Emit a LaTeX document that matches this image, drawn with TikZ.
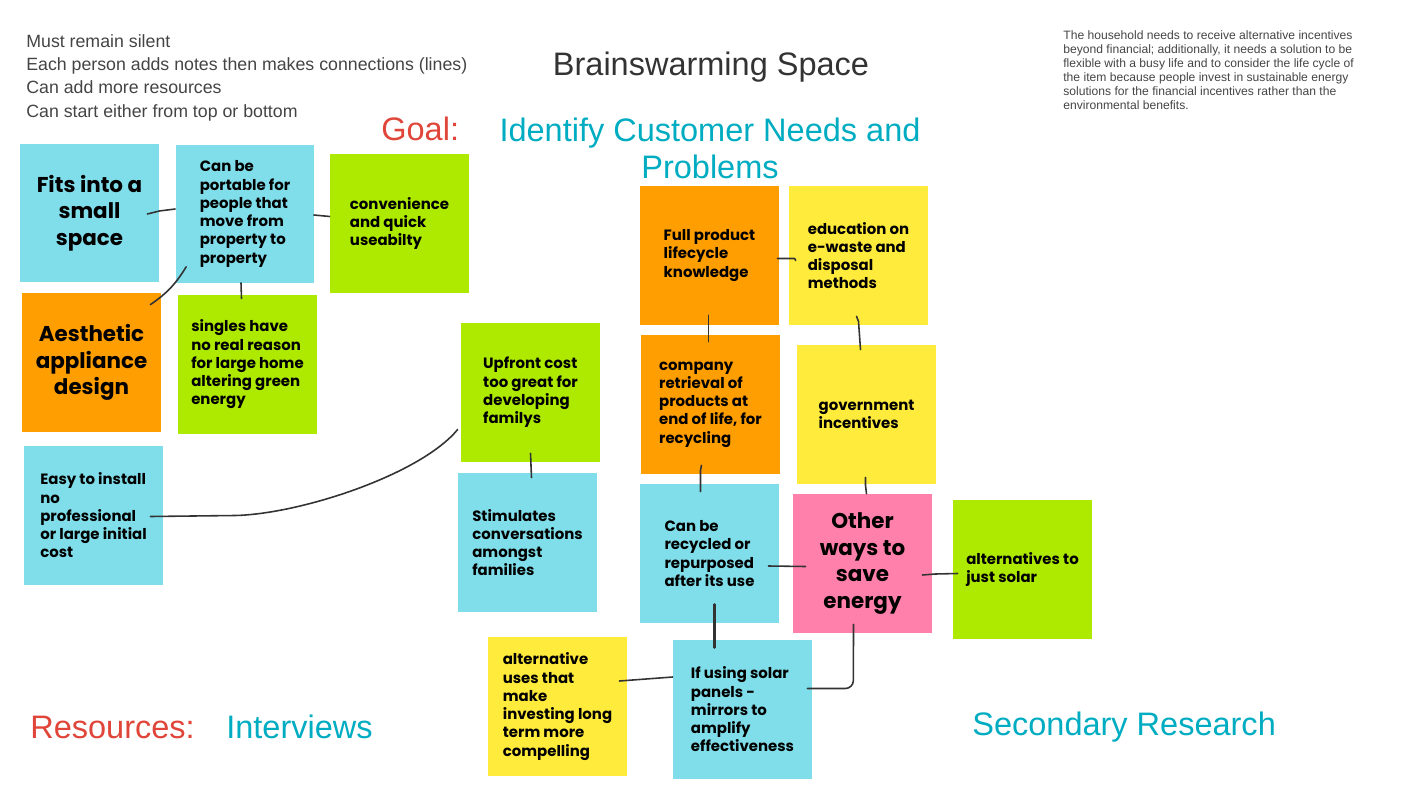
\documentclass[tikz,border=0pt]{standalone}
\usepackage{fontspec}
\setmainfont{Liberation Sans}
\newfontfamily\notefont{Poppins}
\usepackage{tikz}
\usetikzlibrary{calc}
\definecolor{noteblue}{HTML}{80DEEA}
\definecolor{notegreen}{HTML}{AEEA00}
\definecolor{noteorange}{HTML}{FF9E00}
\definecolor{noteyellow}{HTML}{FFEB3B}
\definecolor{notepink}{HTML}{FF80AB}
\definecolor{goalred}{HTML}{E0453A}
\definecolor{tealtext}{HTML}{00ACC1}
\definecolor{darkgray}{HTML}{333333}
\definecolor{textgray}{HTML}{444444}

\tikzset{
  note/.style={minimum width=2.78cm, minimum height=2.78cm, inner sep=0pt,
    align=left, text=black, font=\notefont\bfseries\fontsize{8.5}{10.4}\selectfont},
  bignote/.style={note, align=center, font=\notefont\bfseries\fontsize{12.2}{15}\selectfont},
  link/.style={draw=darkgray, line width=0.9pt, line cap=round, line join=round},
  heading/.style={inner sep=0pt, font=\fontsize{18.5}{21}\selectfont}
}

\begin{document}
\begin{tikzpicture}[x=0.02cm, y=-0.02cm]
  \useasboundingbox (0,0) rectangle (1422,800);
  % texts
  \node[inner sep=0pt, anchor=north west, align=left, text=textgray,
    font=\fontsize{10.1}{13.3}\selectfont] (rules) at (26,34)
    {Must remain silent\\Each person adds notes then makes connections (lines)\\Can add more resources\\Can start either from top or bottom};
  \node[inner sep=0pt, text=darkgray, font=\fontsize{18.5}{22}\selectfont] (title) at (711,67) {Brainswarming Space};
  \node[heading, anchor=west, text=goalred] (goal) at (381,129) {Goal:};
  \node[heading, align=center, text=tealtext] (goaltext) at (710,148) {Identify Customer Needs and\\Problems};
  \node[inner sep=0pt, anchor=north west, align=left, text=textgray,
    font=\fontsize{6.9}{8.05}\selectfont] (summary) at (1063,30)
    {The household needs to receive alternative incentives\\beyond financial; additionally, it needs a solution to be\\flexible with a busy life and to consider the life cycle of\\the item because people invest in sustainable energy\\solutions for the financial incentives rather than the\\environmental benefits.};
  \node[heading, anchor=west, text=goalred] (resources) at (30,727) {Resources:};
  \node[heading, anchor=west, text=tealtext] (interviews) at (226,727) {Interviews};
  \node[heading, anchor=west, text=tealtext] (secondary) at (972,727) {Secondary Research};

  % notes, left group
  \node[bignote, fill=noteblue] (fits) at (89.5,213) {Fits into a\\small\\space};
  \node[note, fill=noteblue] (portable) at (245,214) {Can be\\portable for\\people that\\move from\\property to\\property};
  \node[note, fill=notegreen] (convenience) at (399.5,223.5) {convenience\\and quick\\useabilty};
  \node[bignote, fill=noteorange] (aesthetic) at (91.5,362.5) {Aesthetic\\appliance\\design};
  \node[note, fill=notegreen] (singles) at (247.5,364.5) {singles have\\no real reason\\for large home\\altering green\\energy};
  \node[note, fill=noteblue] (easy) at (93.5,515.5) {Easy to install\\no\\professional\\or large initial\\cost};
  \node[note, fill=notegreen] (upfront) at (530.5,392.5) {Upfront cost\\too great for\\developing\\familys};
  \node[note, fill=noteblue] (stimulates) at (527.5,542.5) {Stimulates\\conversations\\amongst\\families};

  % notes, right group
  \node[note, fill=noteorange] (lifecycle) at (709.5,255.5) {Full product\\lifecycle\\knowledge};
  \node[note, fill=noteyellow] (education) at (858.5,255.5) {education on\\e-waste and\\disposal\\methods};
  \node[note, fill=noteorange] (retrieval) at (710.5,404.5) {company\\retrieval of\\products at\\end of life, for\\recycling};
  \node[note, fill=noteyellow] (government) at (866.5,414.5) {government\\incentives};
  \node[note, fill=noteblue] (recycled) at (709.5,553.5) {Can be\\recycled or\\repurposed\\after its use};
  \node[bignote, fill=notepink] (otherways) at (862.5,563.5) {Other\\ways to\\save\\energy};
  \node[note, fill=notegreen] (justsolar) at (1022.5,569.5) {alternatives to\\just solar};
  \node[note, fill=noteyellow] (altuses) at (557.5,706.5) {alternative\\uses that\\make\\investing long\\term more\\compelling};
  \node[note, fill=noteblue] (solar) at (742.5,709.5) {If using solar\\panels -\\mirrors to\\amplify\\effectiveness};

  % connections
  \draw[link] ($(fits.east)+(-12,1)$) -- ($(fits.east)+(0,-2)$) -- ($(portable.west)+(0,-5)$);
  \draw[link] ($(portable.east)+(-1,1)$) -- ($(convenience.west)+(0,-7)$);
  \draw[link] ($(portable.south west)+(11,-17)$) to[bend left=12] ($(aesthetic.north east)+(-11,12)$);
  \draw[link] ($(portable.south)+(-4,-1)$) -- ($(singles.north)+(-6,4)$);
  \draw[link] ($(easy.east)+(-13,1)$) -- ++(85,-1) .. controls (300,514) and (420,475) .. ($(upfront.west)+(-3,37)$);
  \draw[link] ($(upfront.south)+(0,-9)$) -- ($(stimulates.north)+(4,5)$);
  \draw[link] ($(lifecycle.east)+(-2,3)$) -- ($(education.west)+(6,3)$) -- ++(1,2);
  \draw[link] ($(lifecycle.south)+(-1,-10)$) -- ($(retrieval.north)+(-2,7)$);
  \draw[link] ($(education.south)+(-2,-9)$) -- ++(2,5) -- ($(government.north)+(-6,5)$);
  \draw[link] ($(retrieval.south)+(-9,-9)$) -- ++(-1,5) -- ($(recycled.north)+(-9,8)$);
  \draw[link] ($(government.south)+(-1,-7)$) -- ++(0,8) -- ($(otherways.north)+(4,0)$);
  \draw[link] ($(recycled.east)+(-11,12.5)$) -- ($(otherways.west)+(13,3)$);
  \draw[link] ($(otherways.east)+(-10,11.5)$) -- ++(13,-1) -- ($(justsolar.west)+(5,4)$);
  \draw[link, line width=1.3pt] ($(recycled.south)+(5,-19)$) -- ($(solar.north)+(-28,8)$);
  \draw[link] ($(altuses.east)+(-8,-25.5)$) -- ($(solar.west)+(0,-32.5)$);
  \draw[link, rounded corners=0.16cm] ($(otherways.south)+(-9,-9)$) -- ($(solar.east)+(41,-21)$) -- ($(solar.east)+(-5,-21)$);
\end{tikzpicture}
\end{document}
